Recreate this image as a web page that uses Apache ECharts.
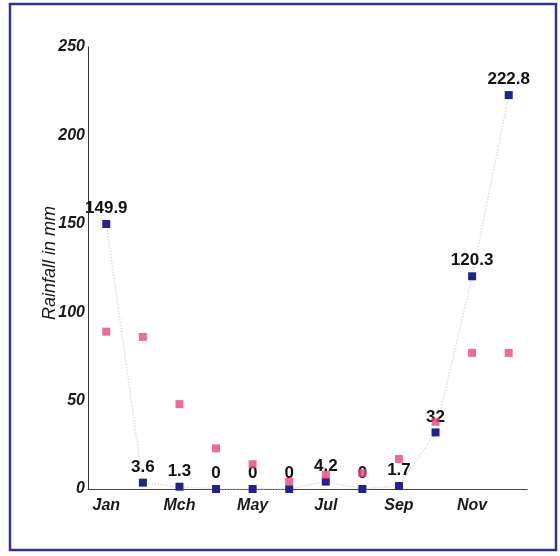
<!DOCTYPE html>
<html>
<head>
<meta charset="utf-8">
<script src="https://cdn.jsdelivr.net/npm/echarts@6/dist/echarts.min.js"></script>
<style>
html,body{margin:0;padding:0;background:#fff;}
#chart{width:560px;height:556px;}
</style>
</head>
<body>
<div id="chart"></div>
<script>
const months = ['Jan','Feb','Mch','Apr','May','Jun','Jul','Aug','Sep','Oct','Nov','Dec'];
const rainfallYear = [149.9, 3.6, 1.3, 0, 0, 0, 4.2, 0, 1.7, 32, 120.3, 222.8];
const rainfallAverage = [89, 86, 48, 23, 14, 4, 8, 9, 17, 38, 77, 77];
const yTicks = [0, 50, 100, 150, 200, 250];

const chart = echarts.init(document.getElementById('chart'), null, {renderer: 'canvas'});
const fontFam = 'Liberation Sans, Arial, sans-serif';
chart.setOption({
  animation: false,
  backgroundColor: '#ffffff',
  graphic: [{
    type: 'rect',
    shape: {x: 10, y: 4, width: 546, height: 546},
    style: {fill: 'none', stroke: '#33338f', lineWidth: 2.5},
    z: 100
  }],
  grid: {left: 88, top: 47, width: 439, height: 442},
  xAxis: {
    type: 'category',
    data: months,
    boundaryGap: true,
    axisLine: {lineStyle: {color: '#444', width: 1}},
    axisTick: {show: false},
    axisLabel: {
      interval: 1,
      margin: 9,
      fontFamily: fontFam, fontSize: 16, fontStyle: 'italic', fontWeight: 'bold', color: '#1a1a1a'
    },
    splitLine: {show: false}
  },
  yAxis: {
    type: 'value',
    min: yTicks[0],
    max: yTicks[yTicks.length - 1],
    interval: 50,
    name: 'Rainfall in mm',
    nameLocation: 'middle',
    nameGap: 29,
    nameMoveOverlap: false,
    nameTextStyle: {fontFamily: fontFam, fontSize: 18, fontStyle: 'italic', color: '#1a1a1a', padding: [0, 0, 0, 10]},
    axisLine: {show: true, lineStyle: {color: '#333', width: 1}},
    axisTick: {show: false},
    axisLabel: {
      margin: 3,
      fontFamily: fontFam, fontSize: 16, fontStyle: 'italic', fontWeight: 'bold', color: '#1a1a1a'
    },
    splitLine: {show: false}
  },
  series: [
    {
      name: 'Rainfall',
      type: 'line',
      data: rainfallYear,
      symbol: 'rect',
      symbolSize: 8,
      itemStyle: {color: '#22228c'},
      lineStyle: {color: '#dcdcdc', width: 1.5, type: 'dotted'},
      label: {
        show: true, position: 'top', distance: 3,
        fontFamily: fontFam, fontSize: 17, fontWeight: 'bold', color: '#111'
      },
      z: 2
    },
    {
      name: 'Average',
      type: 'scatter',
      data: rainfallAverage,
      symbol: 'rect',
      symbolSize: 8,
      itemStyle: {color: '#e8457f'},
      z: 10
    }
  ]
});
</script>
</body>
</html>
